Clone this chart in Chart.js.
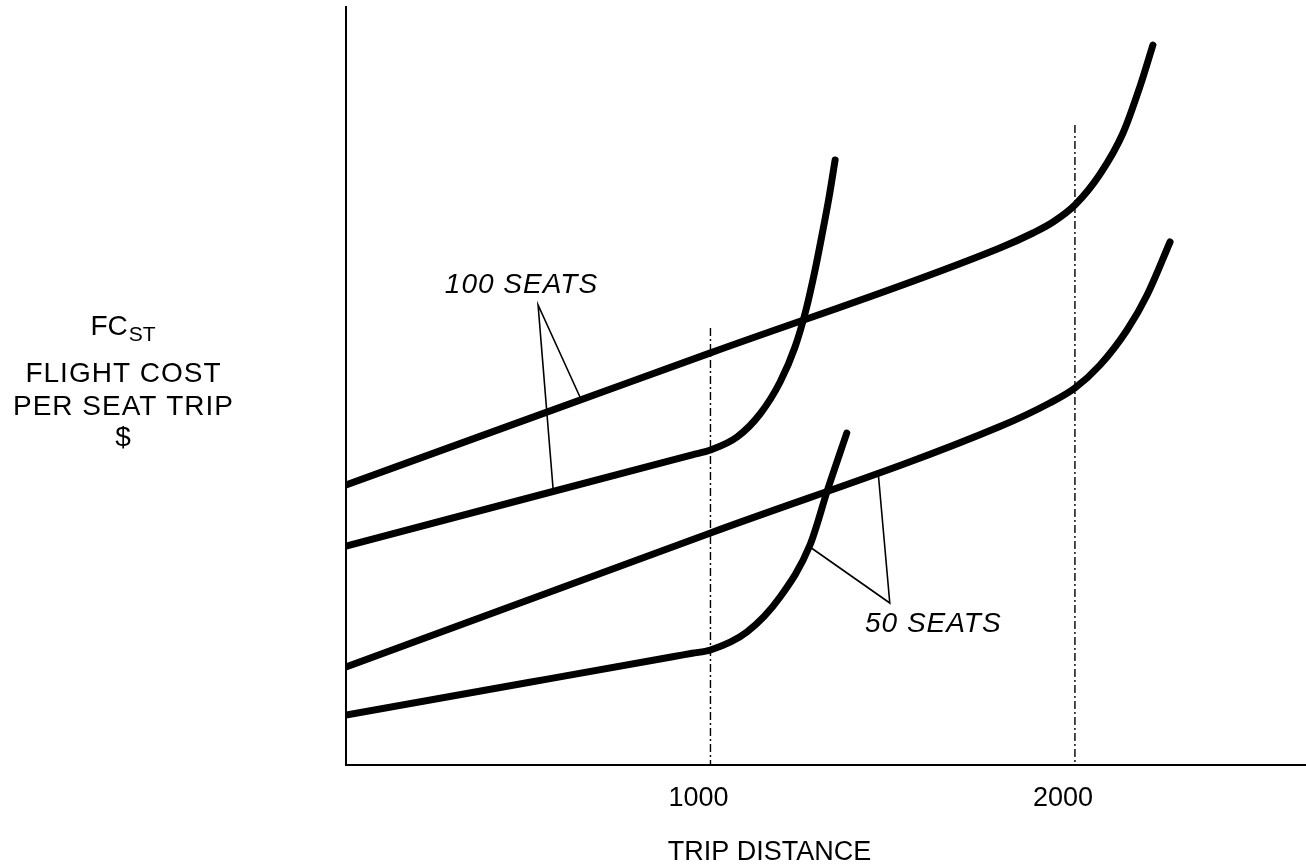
<!DOCTYPE html>
<html>
<head>
<meta charset="utf-8">
<script src="https://cdn.jsdelivr.net/npm/chart.js@4.4.1/dist/chart.umd.min.js"></script>
<style>
  html, body { margin: 0; padding: 0; background: #fff; }
  canvas { display: block; }
</style>
</head>
<body>
<canvas id="c" width="1306" height="868"></canvas>
<script>
// ---- data (x = trip distance, y = relative flight cost per seat trip) ----
const dist100Long = [0, 500, 1000, 1794, 1885, 1940, 2000, 2069, 2132, 2178, 2214];
const cost100Long = [280, 346.1, 412.1, 517, 532, 543, 560, 591, 632, 678, 720];

const dist100Short = [0, 500, 900, 950, 1000, 1073, 1136, 1191, 1232, 1262, 1287, 1306, 1325, 1342];
const cost100Short = [219, 267, 305.4, 310.2, 315, 328, 351, 383, 418, 455, 495, 530, 567, 605];

const dist50Long = [0, 500, 1000, 1794, 1931, 2000, 2069, 2143, 2198, 2261];
const cost50Long = [98, 165, 232, 338.4, 362, 377, 400, 435, 470, 523];

const dist50Short = [0, 500, 900, 950, 1000, 1100, 1191, 1273, 1322, 1374];
const cost50Short = [50, 82.5, 108.5, 111.75, 115, 133, 168, 220, 276, 332];

// reference (dash-dot) verticals
const refLine1000X = [1000, 1000];
const refLine1000Y = [437, 0];
const refLine2000X = [2000, 2000];
const refLine2000Y = [640, 0];

// leader lines for labels
const leader100X = [642, 527, 568];
const leader100Y = [368, 460, 277];
const leader50X = [1460, 1492, 1273];
const leader50Y = [293, 162, 218];

const xTickValues = [1000, 2000];
const xTitle = 'TRIP DISTANCE';
const yTitleLines = ['FLIGHT COST', 'PER SEAT TRIP', '$'];
const label100 = '100 SEATS';
const label50 = '50 SEATS';

const toPts = (xs, ys) => xs.map((x, i) => ({ x: x, y: ys[i] }));

const thick = (xs, ys) => ({
  data: toPts(xs, ys),
  borderColor: '#000',
  borderWidth: 7,
  borderCapStyle: 'round',
  borderJoinStyle: 'round',
  cubicInterpolationMode: 'monotone',
  pointRadius: 0,
  fill: false
});
const thin = (xs, ys) => ({
  data: toPts(xs, ys),
  borderColor: '#000',
  borderWidth: 1.6,
  tension: 0,
  pointRadius: 0,
  fill: false
});
const dashed = (xs, ys) => ({
  data: toPts(xs, ys),
  borderColor: '#000',
  borderWidth: 1.4,
  borderDash: [8, 3, 2, 3],
  tension: 0,
  pointRadius: 0,
  fill: false
});

const FONT = '"Liberation Sans", Arial, Helvetica, sans-serif';

function spacedText(ctx, text, x, y, spacing) {
  if ('letterSpacing' in ctx) {
    ctx.letterSpacing = spacing + 'px';
    ctx.fillText(text, x + (ctx.textAlign === 'center' ? spacing / 2 : 0), y);
    ctx.letterSpacing = '0px';
  } else {
    ctx.fillText(text, x, y);
  }
}

const textPlugin = {
  id: 'texts',
  afterDraw(chart) {
    const ctx = chart.ctx;
    const xs = chart.scales.x, ys = chart.scales.y;
    ctx.save();
    ctx.fillStyle = '#000';
    ctx.textBaseline = 'alphabetic';

    // y-axis title (left margin)
    const cx = 123;
    ctx.font = '28px ' + FONT;
    const wFC = ctx.measureText('FC').width;
    ctx.font = '21px ' + FONT;
    const wST = ctx.measureText('ST').width;
    const startFC = cx - (wFC + wST + 1) / 2;
    ctx.textAlign = 'left';
    ctx.font = '28px ' + FONT;
    ctx.fillText('FC', startFC, 335);
    ctx.font = '21px ' + FONT;
    ctx.fillText('ST', startFC + wFC + 1, 341);
    ctx.textAlign = 'center';
    ctx.font = '28px ' + FONT;
    const yBase = [382, 415, 446];
    yTitleLines.forEach((t, i) => spacedText(ctx, t, cx, yBase[i], 1));

    // x-axis title
    ctx.font = '27px ' + FONT;
    ctx.textAlign = 'left';
    ctx.fillText(xTitle, xs.getPixelForValue(883), 860);

    // italic series labels
    ctx.font = 'italic 28px ' + FONT;
    ctx.textAlign = 'center';
    spacedText(ctx, label100, xs.getPixelForValue(480), ys.getPixelForValue(472), 1);
    spacedText(ctx, label50, xs.getPixelForValue(1610), ys.getPixelForValue(133), 1);
    ctx.restore();
  }
};

new Chart(document.getElementById('c'), {
  type: 'line',
  data: {
    datasets: [
      dashed(refLine1000X, refLine1000Y),
      dashed(refLine2000X, refLine2000Y),
      thin(leader100X, leader100Y),
      thin(leader50X, leader50Y),
      thick(dist100Long, cost100Long),
      thick(dist100Short, cost100Short),
      thick(dist50Long, cost50Long),
      thick(dist50Short, cost50Short)
    ]
  },
  options: {
    responsive: false,
    animation: false,
    devicePixelRatio: 1,
    layout: { padding: { top: 7, right: 0, bottom: 0, left: 0 } },
    plugins: { legend: { display: false }, tooltip: { enabled: false }, title: { display: false } },
    scales: {
      x: {
        type: 'linear',
        min: 0,
        max: 2634,
        afterBuildTicks: s => { s.ticks = xTickValues.map(v => ({ value: v })); },
        afterFit: s => { s.height = 103; },
        grid: { display: false, drawTicks: false },
        border: { display: true, color: '#000', width: 2 },
        ticks: {
          color: '#000',
          font: { family: FONT, size: 27 },
          padding: 17,
          labelOffset: -12,
          maxRotation: 0,
          autoSkip: false,
          callback: v => String(v)
        }
      },
      y: {
        type: 'linear',
        min: 0,
        max: 758,
        afterFit: s => { s.width = 346; },
        grid: { display: false, drawTicks: false },
        border: { display: true, color: '#000', width: 2 },
        ticks: { display: false }
      }
    }
  },
  plugins: [textPlugin]
});
</script>
</body>
</html>
